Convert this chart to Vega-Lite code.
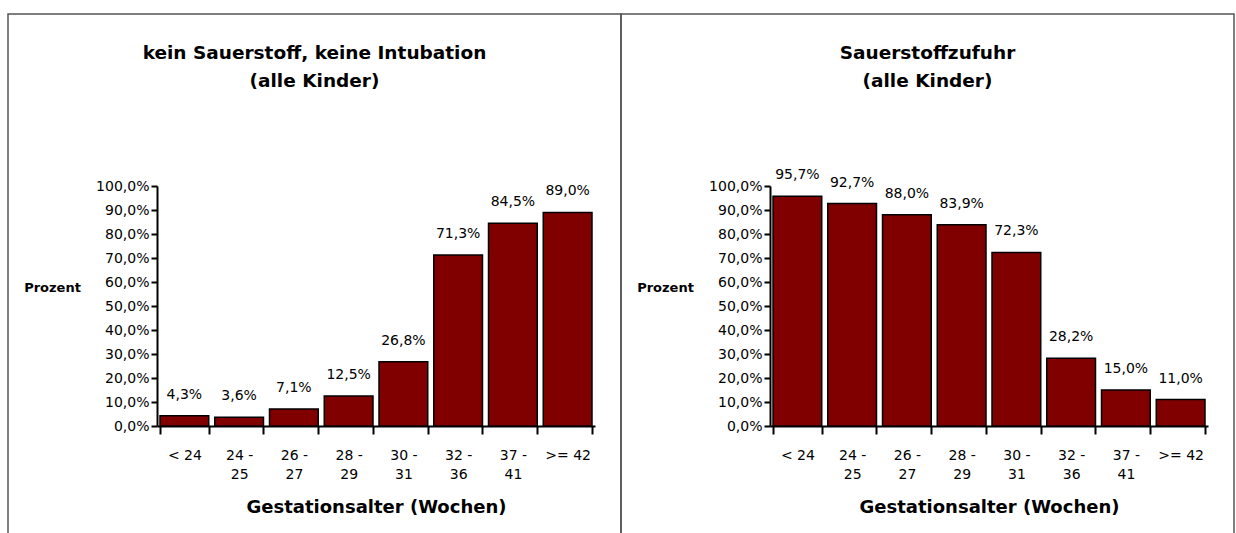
{
  "$schema": "https://vega.github.io/schema/vega-lite/v6.json",
  "padding": {"left": 7, "top": 13, "right": 0, "bottom": 0},
  "background": "white",
  "spacing": 0,
  "bounds": "flush",
  "datasets": {
    "links": [
      {"alter": "< 24", "anteil": 0.043},
      {"alter": "24 - 25", "anteil": 0.036},
      {"alter": "26 - 27", "anteil": 0.071},
      {"alter": "28 - 29", "anteil": 0.125},
      {"alter": "30 - 31", "anteil": 0.268},
      {"alter": "32 - 36", "anteil": 0.713},
      {"alter": "37 - 41", "anteil": 0.845},
      {"alter": ">= 42", "anteil": 0.89}
    ],
    "rechts": [
      {"alter": "< 24", "anteil": 0.957},
      {"alter": "24 - 25", "anteil": 0.927},
      {"alter": "26 - 27", "anteil": 0.88},
      {"alter": "28 - 29", "anteil": 0.839},
      {"alter": "30 - 31", "anteil": 0.723},
      {"alter": "32 - 36", "anteil": 0.282},
      {"alter": "37 - 41", "anteil": 0.15},
      {"alter": ">= 42", "anteil": 0.11}
    ]
  },
  "hconcat": [
    {
      "width": 613,
      "height": 530,
      "title": {"text": ["kein Sauerstoff, keine Intubation", "(alle Kinder)"]},
      "data": {"name": "links"},
      "encoding": {
        "x": {
          "field": "alter", "type": "nominal", "sort": null,
          "scale": {"range": [149, 587], "paddingInner": 0.11, "paddingOuter": 0.055},
          "axis": {
            "title": "Gestationsalter (Wochen)", "offset": -118, "labelAngle": 0,
            "labelExpr": "split(replace(datum.label, ' - ', ' -|'), '|')",
            "labelLineHeight": 19, "labelPadding": 14, "tickSize": 8, "tickBand": "extent",
            "titleX": 368, "titleY": 81, "titleBaseline": "middle", "titleAlign": "center", "titleFontSize": 18
          }
        },
        "y": {
          "field": "anteil", "type": "quantitative",
          "scale": {"domain": [0, 1], "range": [412, 172], "nice": false},
          "axis": {
            "title": "Prozent", "offset": -149,
            "values": [0, 0.1, 0.2, 0.3, 0.4, 0.5, 0.6, 0.7, 0.8, 0.9, 1],
            "format": ".1%", "titleAngle": 0, "titleX": -105, "titleY": 273,
            "titleAlign": "center", "titleBaseline": "middle", "titleFontSize": 13,
            "tickSize": 6, "labelPadding": 2
          }
        }
      },
      "layer": [
        {"mark": {"type": "bar", "fill": "#800000", "stroke": "black", "strokeWidth": 1.5}},
        {
          "mark": {"type": "text", "baseline": "middle", "dy": -21, "font": "DejaVu Sans", "fontSize": 14, "color": "black"},
          "encoding": {"text": {"field": "anteil", "type": "quantitative", "format": ".1%"}}
        }
      ]
    },
    {
      "width": 613,
      "height": 530,
      "title": {"text": ["Sauerstoffzufuhr", "(alle Kinder)"]},
      "data": {"name": "rechts"},
      "encoding": {
        "x": {
          "field": "alter", "type": "nominal", "sort": null,
          "scale": {"range": [149, 587], "paddingInner": 0.11, "paddingOuter": 0.055},
          "axis": {
            "title": "Gestationsalter (Wochen)", "offset": -118, "labelAngle": 0,
            "labelExpr": "split(replace(datum.label, ' - ', ' -|'), '|')",
            "labelLineHeight": 19, "labelPadding": 14, "tickSize": 8, "tickBand": "extent",
            "titleX": 368, "titleY": 81, "titleBaseline": "middle", "titleAlign": "center", "titleFontSize": 18
          }
        },
        "y": {
          "field": "anteil", "type": "quantitative",
          "scale": {"domain": [0, 1], "range": [412, 172], "nice": false},
          "axis": {
            "title": "Prozent", "offset": -149,
            "values": [0, 0.1, 0.2, 0.3, 0.4, 0.5, 0.6, 0.7, 0.8, 0.9, 1],
            "format": ".1%", "titleAngle": 0, "titleX": -105, "titleY": 273,
            "titleAlign": "center", "titleBaseline": "middle", "titleFontSize": 13,
            "tickSize": 6, "labelPadding": 2
          }
        }
      },
      "layer": [
        {"mark": {"type": "bar", "fill": "#800000", "stroke": "black", "strokeWidth": 1.5}},
        {
          "mark": {"type": "text", "baseline": "middle", "dy": -21, "font": "DejaVu Sans", "fontSize": 14, "color": "black"},
          "encoding": {"text": {"field": "anteil", "type": "quantitative", "format": ".1%"}}
        }
      ]
    }
  ],
  "config": {
    "locale": {"number": {"decimal": ",", "thousands": ".", "grouping": [3], "currency": ["", " €"]}},
    "view": {"stroke": "#555555", "strokeWidth": 1.5},
    "axis": {
      "grid": false,
      "domainColor": "black", "domainWidth": 2,
      "tickColor": "black", "tickWidth": 2,
      "labelColor": "black", "labelFont": "DejaVu Sans", "labelFontSize": 14,
      "titleColor": "black", "titleFont": "DejaVu Sans", "titleFontWeight": "bold"
    },
    "title": {
      "font": "DejaVu Sans", "fontSize": 18.5, "fontWeight": "bold", "color": "black",
      "lineHeight": 28, "baseline": "top", "offset": -76, "anchor": "middle", "frame": "group"
    }
  }
}
